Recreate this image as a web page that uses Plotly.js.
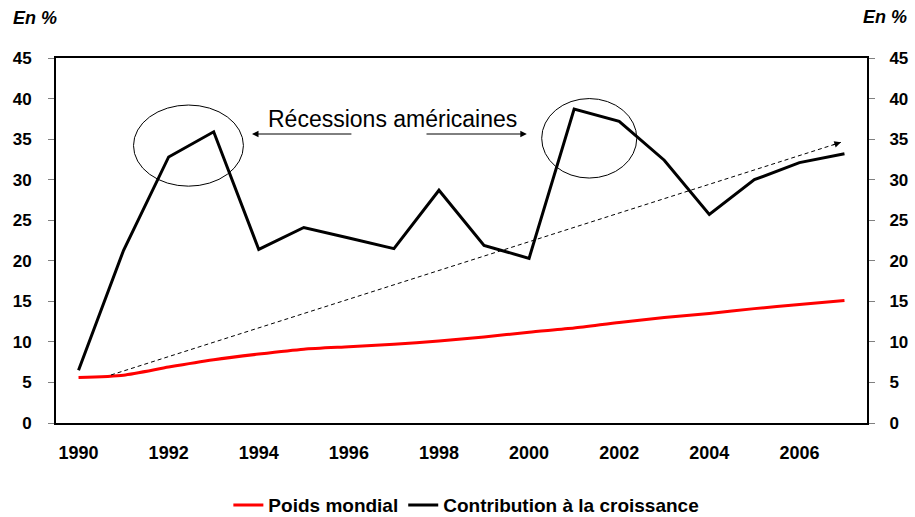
<!DOCTYPE html>
<html>
<head>
<meta charset="utf-8">
<script src="https://cdn.plot.ly/plotly-3.0.1.min.js"></script>
<style>html,body{margin:0;padding:0;background:#fff;}#chart{width:915px;height:517px;}</style>
</head>
<body>
<div id="chart"></div>
<script>
const years = [1990,1991,1992,1993,1994,1995,1996,1997,1998,1999,2000,2001,2002,2003,2004,2005,2006,2007];
const poidsMondial = [5.6,5.9,6.9,7.8,8.5,9.1,9.4,9.7,10.1,10.6,11.2,11.7,12.4,13.0,13.5,14.1,14.6,15.1];
const contribution = [6.5,21.3,32.8,35.9,21.4,24.1,22.8,21.5,28.7,21.9,20.3,38.7,37.2,32.4,25.7,30.0,32.1,33.2];
const seriesNames = ["Poids mondial", "Contribution à la croissance"];
const xTicks = [1990,1992,1994,1996,1998,2000,2002,2004,2006];
const yTicks = [0,5,10,15,20,25,30,35,40,45];
const unitLabel = "En %";
const recessionLabel = "Récessions américaines";
// recession ellipses [x0, x1, y0, y1]
const recession1 = [1991.22, 1993.66, 29.2, 39.2];
const recession2 = [2000.28, 2002.39, 30.2, 40.0];
// trend arrow [xStart, yStart, xEnd, yEnd]
const trend = [1990.72, 5.92, 2006.92, 34.6];

const FONT = "Liberation Sans, Arial, sans-serif";

const traces = [
  {x: years, y: poidsMondial, name: seriesNames[0], type: "scatter", mode: "lines",
   line: {color: "#ff0000", width: 3, shape: "spline", smoothing: 0.6}},
  {x: years, y: contribution, name: seriesNames[1], type: "scatter", mode: "lines",
   line: {color: "#000000", width: 3}},
  {x: [years[0]], y: [contribution[0]], yaxis: "y2", showlegend: false, hoverinfo: "skip",
   mode: "markers", marker: {opacity: 0}}
];

const yCommon = {
  range: [0, 45], tickvals: yTicks, ticks: "outside", ticklen: 6, tickcolor: "#808080", tickwidth: 1,
  showgrid: false, zeroline: false, showline: true, linecolor: "#000", linewidth: 2,
  tickfont: {family: FONT, size: 17, color: "#000", weight: "bold"}, fixedrange: true
};

const layout = {
  width: 915, height: 517,
  margin: {l: 56, r: 48, t: 58, b: 94, autoexpand: false},
  paper_bgcolor: "#fff", plot_bgcolor: "#fff",
  font: {family: FONT, color: "#000"},
  showlegend: true,
  legend: {orientation: "h", x: 0.506, xanchor: "center", y: -0.225, yanchor: "middle",
           font: {family: FONT, size: 19, color: "#000", weight: "bold"}, itemwidth: 30,
           tracegroupgap: 0},
  xaxis: {range: [1989.5, 2007.5], tickvals: xTicks, ticks: "", showgrid: false, zeroline: false,
          showline: true, linecolor: "#000", linewidth: 2, mirror: true,
          ticklabelstandoff: 12,
          tickfont: {family: FONT, size: 18, color: "#000", weight: "bold"}, fixedrange: true},
  yaxis: Object.assign({}, yCommon, {side: "left", ticklabelstandoff: 13}),
  yaxis2: Object.assign({}, yCommon, {side: "right", overlaying: "y", ticklabelstandoff: 11}),
  shapes: [
    {type: "circle", xref: "x", yref: "y", x0: recession1[0], x1: recession1[1], y0: recession1[2], y1: recession1[3],
     line: {color: "#000", width: 1}},
    {type: "circle", xref: "x", yref: "y", x0: recession2[0], x1: recession2[1], y0: recession2[2], y1: recession2[3],
     line: {color: "#000", width: 1}},
    {type: "line", xref: "x", yref: "y", x0: trend[0], y0: trend[1], x1: trend[2], y1: trend[3],
     line: {color: "#000", width: 1, dash: "4px,3px"}}
  ],
  annotations: [
    {xref: "paper", yref: "paper", x: -0.056, y: 1.11, xanchor: "left", yanchor: "middle", showarrow: false,
     text: unitLabel, font: {family: FONT, size: 18, color: "#000", weight: "bold", style: "italic"}},
    {xref: "paper", yref: "paper", x: 1.052, y: 1.113, xanchor: "right", yanchor: "middle", showarrow: false,
     text: unitLabel, font: {family: FONT, size: 18, color: "#000", weight: "bold", style: "italic"}},
    {xref: "x", yref: "y", x: 1996.97, y: 37.5, showarrow: false, text: recessionLabel,
     font: {family: FONT, size: 23, color: "#000"}},
    {xref: "x", yref: "y", x: 1993.85, y: 35.63, axref: "x", ayref: "y", ax: 1996.09, ay: 35.63,
     text: "", showarrow: true, arrowhead: 2, arrowsize: 1.3, arrowwidth: 1, arrowcolor: "#000", standoff: 0},
    {xref: "x", yref: "y", x: 1999.95, y: 35.63, axref: "x", ayref: "y", ax: 1997.69, ay: 35.63,
     text: "", showarrow: true, arrowhead: 2, arrowsize: 1.3, arrowwidth: 1, arrowcolor: "#000", standoff: 0},
    {xref: "x", yref: "y", x: trend[2], y: trend[3], ax: -9.5, ay: 3,
     text: "", showarrow: true, arrowhead: 2, arrowsize: 1.3, arrowwidth: 1, arrowcolor: "#000", standoff: 0}
  ]
};

Plotly.newPlot("chart", traces, layout, {staticPlot: true, displayModeBar: false});
</script>
</body>
</html>
